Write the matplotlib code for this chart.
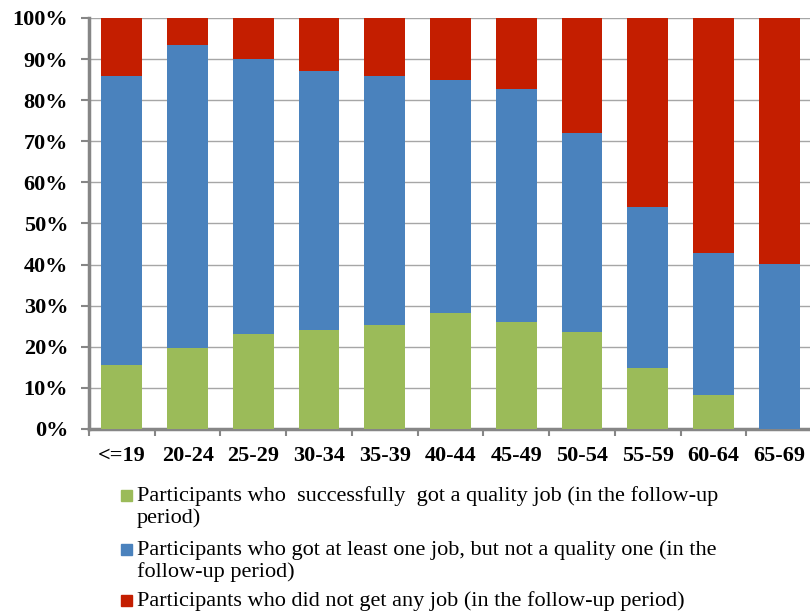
import matplotlib
matplotlib.use("Agg")
import matplotlib.pyplot as plt
import numpy as np
from matplotlib.patches import Rectangle

# age groups and stacked shares (%)
age_groups = ["<=19", "20-24", "25-29", "30-34", "35-39", "40-44",
              "45-49", "50-54", "55-59", "60-64", "65-69"]
quality_job = [15.6, 19.8, 23.2, 24.2, 25.4, 28.2, 26.0, 23.7, 14.8, 8.2, 0.0]
any_job = [70.3, 73.6, 66.8, 62.9, 60.5, 56.7, 56.7, 48.3, 39.3, 34.6, 40.1]
no_job = [100 - q - a for q, a in zip(quality_job, any_job)]

labels = ["Participants who  successfully  got a quality job (in the follow-up\nperiod)",
          "Participants who got at least one job, but not a quality one (in the\nfollow-up period)",
          "Participants who did not get any job (in the follow-up period)"]
colors = ["#9BBB59", "#4A82BD", "#C41E00"]

plt.rcParams['font.family'] = ['Liberation Serif', 'DejaVu Serif']

fig = plt.figure(figsize=(8.1, 6.12), dpi=100)
ax = fig.add_axes([89 / 810, 1 - 429 / 612, 723 / 810, 411 / 612])

x = np.arange(len(age_groups))
bottom = np.zeros(len(age_groups))
for vals, c in zip([quality_job, any_job, no_job], colors):
    ax.bar(x, vals, width=0.62, bottom=bottom, color=c, edgecolor="none", zorder=3)
    bottom += np.array(vals)

ax.set_xlim(-0.5, len(age_groups) - 0.5)
ax.set_ylim(0, 100)
ax.set_yticks(np.arange(0, 101, 10))
ax.set_yticklabels([f"{v}%" for v in range(0, 101, 10)], fontsize=16, fontweight="bold")
ax.set_xticks(x)
ax.set_xticklabels(age_groups, fontsize=16, fontweight="bold")
ax.set_xticks(np.arange(-0.5, len(age_groups), 1), minor=True)
ax.tick_params(axis="x", which="major", length=0, pad=12)
ax.tick_params(axis="x", which="minor", length=5, width=1.5, color="#868686")
ax.tick_params(axis="y", length=6, width=1.5, color="#868686", pad=9)

ax.grid(axis="y", color="#A6A6A6", linewidth=1, zorder=0)
for s in ["top", "right"]:
    ax.spines[s].set_visible(False)
for s in ["left", "bottom"]:
    ax.spines[s].set_color("#868686")
    ax.spines[s].set_linewidth(2.5)

# legend drawn below the chart
square_y = [495, 549, 600]
text_y = [507, 561, 601]
for lab, c, sy, ty in zip(labels, colors, square_y, text_y):
    fig.patches.append(Rectangle((121 / 810, 1 - (sy + 5.5) / 612), 11 / 810, 11 / 612,
                                 transform=fig.transFigure, color=c))
    fig.text(137 / 810, 1 - ty / 612, lab, fontsize=16, va="center", ha="left",
             linespacing=1.15)

fig.savefig("out.png", dpi=100)
